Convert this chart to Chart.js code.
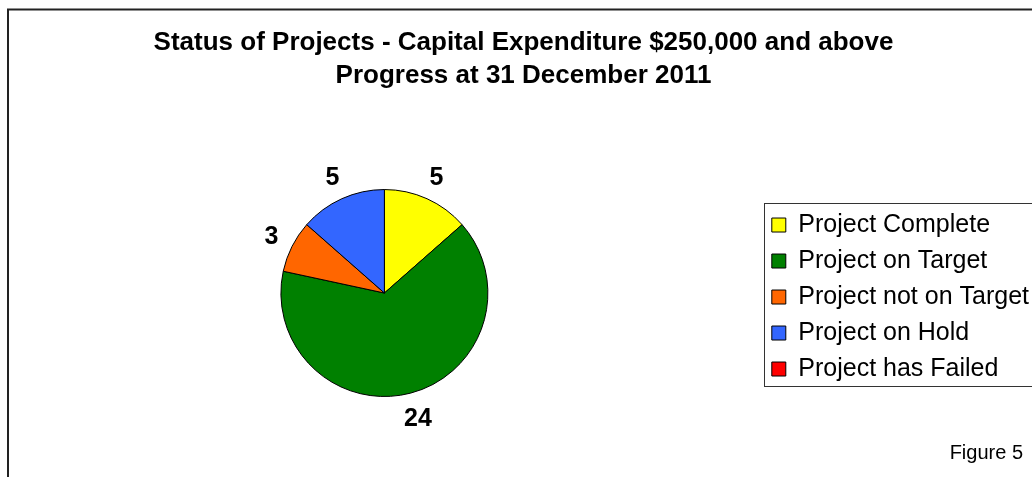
<!DOCTYPE html>
<html>
<head>
<meta charset="utf-8">
<script src="https://cdn.jsdelivr.net/npm/chart.js@4"></script>
<style>
  html, body { margin: 0; padding: 0; background: #fff; overflow: hidden; }
  #wrap { position: absolute; left: 0; top: 0; width: 1054px; height: 477px; }
</style>
</head>
<body>
<div id="wrap"><canvas id="pie"></canvas></div>
<script>
const ctx = document.getElementById('pie');

// data
const categorias = ['Project Complete', 'Project on Target', 'Project not on Target', 'Project on Hold', 'Project has Failed'];
const proyectos = [5, 24, 3, 5, 0];
const colores = ['#FFFF00', '#008000', '#FF6600', '#3366FF', '#FF0000'];
const titulo = ['Status of Projects - Capital Expenditure $250,000 and above', 'Progress at 31 December 2011'];
const nota = 'Figure 5';

const FONT = '"Liberation Sans", Arial, sans-serif';

// outer frame, drawn first
const marco = {
    id: 'marco',
    beforeDraw(chart) {
        const c = chart.ctx;
        c.save();
        c.fillStyle = '#fff';
        c.fillRect(0, 0, chart.width, chart.height);
        c.strokeStyle = '#222';
        c.lineWidth = 2;
        c.strokeRect(8, 9.5, chart.width + 20, chart.height + 20);
        c.restore();
    }
};

// value labels outside each slice
const etiquetas = {
    id: 'etiquetas',
    afterDatasetsDraw(chart) {
        const c = chart.ctx;
        const meta = chart.getDatasetMeta(0);
        c.save();
        c.font = 'bold 25px ' + FONT;
        c.fillStyle = '#000';
        c.textAlign = 'center';
        c.textBaseline = 'alphabetic';
        meta.data.forEach((arc, i) => {
            const v = proyectos[i];
            if (!v) return;
            const p = arc.getProps(['x', 'y', 'startAngle', 'endAngle', 'outerRadius'], true);
            const mid = (p.startAngle + p.endAngle) / 2;
            const dx = Math.cos(mid), dy = Math.sin(mid);
            const txt = String(v);
            const w = c.measureText(txt).width;
            const h = 18;
            const x = p.x + dx * (p.outerRadius + 16) + dx * w / 2;
            const y = p.y + dy * (p.outerRadius + 16) + dy * h / 2;
            c.fillText(txt, x, y + h / 2);
        });
        c.restore();
    }
};

// legend border and figure note
const extras = {
    id: 'extras',
    afterDraw(chart) {
        const c = chart.ctx;
        const lg = chart.legend;
        const hb = lg.legendHitBoxes;
        c.save();
        if (hb && hb.length) {
            const top = hb[0].top - 10;
            const bottom = hb[hb.length - 1].top + hb[hb.length - 1].height + 4;
            c.strokeStyle = '#333';
            c.lineWidth = 1;
            c.strokeRect(Math.round(lg.left + 3) + 0.5, Math.round(top) + 0.5, chart.width, Math.round(bottom - top));
        }
        c.font = '20px ' + FONT;
        c.fillStyle = '#000';
        c.textAlign = 'right';
        c.textBaseline = 'alphabetic';
        c.fillText(nota, 1023, 459);
        c.restore();
    }
};

function pie() {
    const data = {
        labels: categorias,
        datasets: [{
            label: 'Projects',
            data: proyectos,
            backgroundColor: colores,
            borderColor: '#000',
            borderWidth: 1,
            hoverOffset: 0
        }]
    };

    new Chart(ctx, {
        type: 'pie',
        data: data,
        plugins: [marco, etiquetas, extras],
        options: {
            responsive: true,
            maintainAspectRatio: false,
            animation: false,
            devicePixelRatio: 1,
            layout: { padding: { top: 0, left: 8, right: 15, bottom: 80 } },
            plugins: {
                title: {
                    display: true,
                    text: titulo,
                    color: '#000',
                    font: { family: FONT, size: 26, weight: 'bold', lineHeight: 1.27 },
                    padding: { top: 26, bottom: 97 }
                },
                legend: {
                    position: 'right',
                    fullSize: false,
                    title: { display: true, text: '', font: { size: 8, lineHeight: 1 }, padding: 0 },
                    labels: {
                        color: '#000',
                        font: { family: FONT, size: 25 },
                        boxWidth: 14,
                        boxHeight: 14,
                        padding: 11
                    }
                },
                tooltip: { enabled: false }
            }
        }
    });
}

pie();
</script>
</body>
</html>
